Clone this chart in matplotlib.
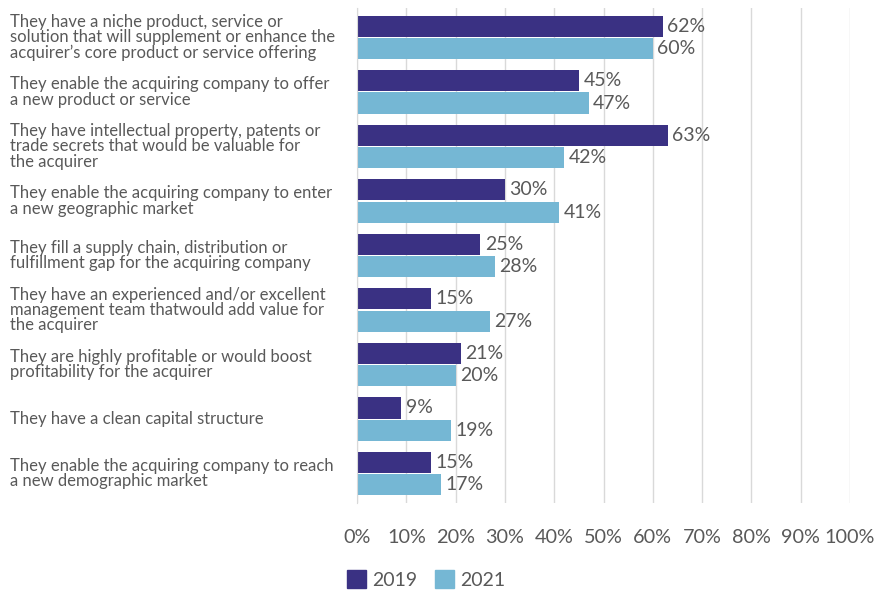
import matplotlib.pyplot as plt
import matplotlib.transforms as mtransforms
from matplotlib.patches import Patch

plt.rcParams['font.family'] = ['Lato', 'DejaVu Sans']

# Data
categories = [
    "They have a niche product, service or\nsolution that will supplement or enhance the\nacquirer\u2019s core product or service offering",
    "They enable the acquiring company to offer\na new product or service",
    "They have intellectual property, patents or\ntrade secrets that would be valuable for\nthe acquirer",
    "They enable the acquiring company to enter\na new geographic market",
    "They fill a supply chain, distribution or\nfulfillment gap for the acquiring company",
    "They have an experienced and/or excellent\nmanagement team thatwould add value for\nthe acquirer",
    "They are highly profitable or would boost\nprofitability for the acquirer",
    "They have a clean capital structure",
    "They enable the acquiring company to reach\na new demographic market",
]
values_2019 = [62, 45, 63, 30, 25, 15, 21, 9, 15]
values_2021 = [60, 47, 42, 41, 28, 27, 20, 19, 17]
x_ticks = list(range(0, 101, 10))

c2019 = "#3A3183"
c2021 = "#75B7D4"
text_color = "#595959"

fig = plt.figure(figsize=(8.82, 5.9), dpi=100)
ax = fig.add_axes([357 / 882, 1 - 503 / 590, 493 / 882, 495 / 590])

pos = list(range(len(categories)))
h = 0.39
off = 0.205
y19 = [p - off for p in pos]
y21 = [p + off for p in pos]
b1 = ax.barh(y19, values_2019, height=h, color=c2019)
b2 = ax.barh(y21, values_2021, height=h, color=c2021)

for bars, vals in ((b1, values_2019), (b2, values_2021)):
    for bar, v in zip(bars, vals):
        ax.text(v + 0.9, bar.get_y() + bar.get_height() / 2, f"{v}%",
                va="center", ha="left", fontsize=14, color=text_color)

ax.set_xlim(0, 100)
ax.set_ylim(len(categories) - 0.5 + 0.04, -0.5 - 0.04)
ax.set_xticks(x_ticks)
ax.set_xticklabels([f"{t}%" for t in x_ticks], fontsize=14.3, color=text_color)
ax.tick_params(axis="x", length=0, pad=18.5)
ax.set_yticks([])
ax.grid(axis="x", color="#D9D9D9", linewidth=1)
ax.set_axisbelow(True)
for s in ("top", "right", "bottom"):
    ax.spines[s].set_visible(False)
ax.spines["left"].set_color("#D9D9D9")

trans = mtransforms.blended_transform_factory(fig.transFigure, ax.transData)
for p, lab in zip(pos, categories):
    ax.text(10 / 882, p, lab, transform=trans, ha="left", va="center",
            fontsize=12, color=text_color, linespacing=0.95)

handles = [Patch(color=c2019, label="2019"), Patch(color=c2021, label="2021")]
leg = fig.legend(handles=handles, loc="lower left", bbox_to_anchor=(333 / 882, -0.021),
                 ncol=2, frameon=False, fontsize=14, handlelength=1.0, handleheight=1.0,
                 handletextpad=0.3, columnspacing=0.9, borderpad=0.2)
for t in leg.get_texts():
    t.set_color(text_color)

fig.savefig("out.png", dpi=100)
